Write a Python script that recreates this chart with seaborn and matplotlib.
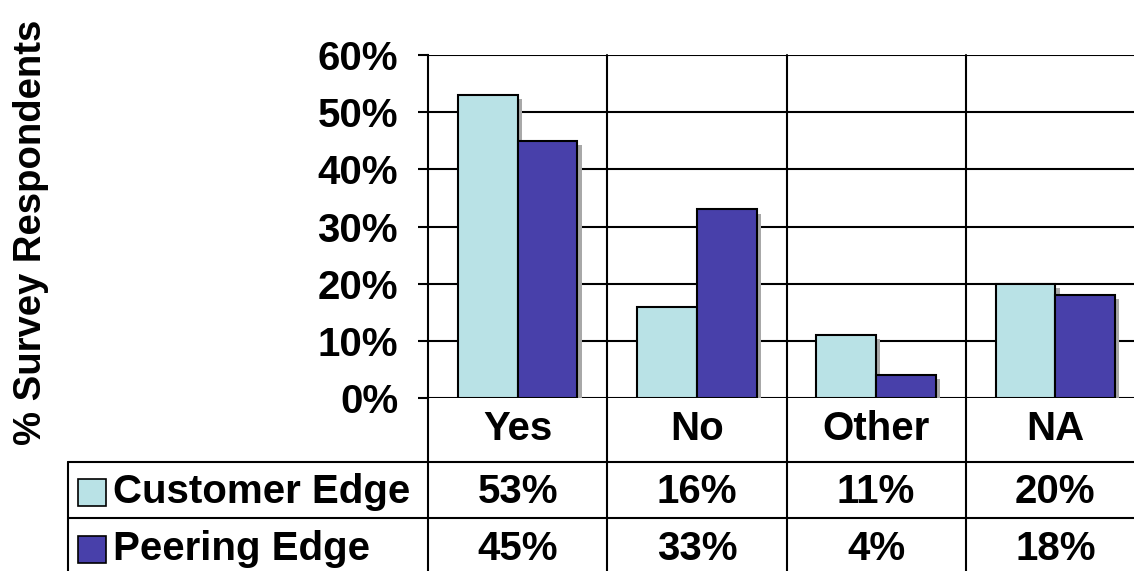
import matplotlib
matplotlib.use("Agg")
import matplotlib.pyplot as plt
import matplotlib.patheffects as pe
import matplotlib.transforms as mtransforms
from matplotlib.patches import Rectangle
import seaborn as sns
import pandas as pd

categories = ["Yes", "No", "Other", "NA"]
customer_edge = [53, 16, 11, 20]
peering_edge = [45, 33, 4, 18]
series_names = ["Customer Edge", "Peering Edge"]
y_ticks = [0, 10, 20, 30, 40, 50, 60]

colors = ["#B9E2E6", "#4840AA"]

df = pd.DataFrame({
    "category": categories * 2,
    "value": customer_edge + peering_edge,
    "series": [series_names[0]] * 4 + [series_names[1]] * 4,
})

sns.set_theme(style="white")
plt.rcParams["font.family"] = ["Liberation Sans", "DejaVu Sans"]
plt.rcParams["font.weight"] = "bold"
plt.rcParams["text.color"] = "black"
plt.rcParams["ytick.color"] = "black"
plt.rcParams["ytick.labelcolor"] = "black"

FS = 29

W, H = 1134, 571
fig = plt.figure(figsize=(W / 100, H / 100), dpi=100)

def fx(px):
    return px / W

def fy(py):
    return 1 - py / H

ax = fig.add_axes([fx(428), fy(398), fx(1145) - fx(428), fy(55) - fy(398)])

sns.barplot(data=df, x="category", y="value", hue="series", order=categories,
            hue_order=series_names, palette=colors, width=2 / 3,
            edgecolor="black", linewidth=1.5, legend=False, ax=ax,
            errorbar=None, saturation=1)

for bar in ax.patches:
    bar.set_path_effects([pe.SimplePatchShadow(offset=(3, -3), shadow_rgbFace="#A8A8A8", alpha=1.0),
                          pe.Normal()])

ax.set_xlim(-0.5, 3.5)
ax.set_ylim(0, 60)
ax.set_yticks(y_ticks)
ax.set_yticklabels([f"{v}%" for v in y_ticks], fontsize=FS, fontweight="bold", color="black")
ax.set_xticks([])
ax.set_xlabel("")
ax.set_ylabel("")
ax.tick_params(axis="y", length=7.5, width=1.5, color="black", pad=14, left=True, direction="out")

for s in ax.spines.values():
    s.set_visible(False)
ax.spines["left"].set_visible(True)
ax.spines["left"].set_color("black")
ax.spines["left"].set_linewidth(1.5)

ax.set_axisbelow(True)
for v in y_ticks:
    ax.axhline(v, color="black", lw=1.5, zorder=0.5)

# vertical grid lines between categories, continuing down through the table
vtrans = mtransforms.blended_transform_factory(ax.transData, fig.transFigure)
for xb in [0.5, 1.5, 2.5]:
    ax.plot([xb, xb], [fy(55), 0], transform=vtrans, color="black", lw=1.5,
            clip_on=False, zorder=0.5)
fig.add_artist(plt.Line2D([fx(428), fx(428)], [fy(398), 0], color="black", lw=1.5))

# table frame
for yline in [462, 518]:
    fig.add_artist(plt.Line2D([fx(68), 1], [fy(yline), fy(yline)], color="black", lw=1.5))
fig.add_artist(plt.Line2D([fx(68), fx(68)], [fy(462), 0], color="black", lw=1.5))

# category row
for i, c in enumerate(categories):
    ax.text(i, fy(429), c, transform=vtrans, ha="center", va="center",
            fontsize=FS, fontweight="bold", color="black")

# data rows
for r, (vals, ycen) in enumerate([(customer_edge, 492), (peering_edge, 549)]):
    for i, v in enumerate(vals):
        ax.text(i, fy(ycen), f"{v}%", transform=vtrans, ha="center", va="center",
                fontsize=FS, fontweight="bold", color="black")
    fig.add_artist(Rectangle((fx(78), fy(ycen + 14)), fx(28), fy(0) - fy(27),
                             transform=fig.transFigure, facecolor=colors[r],
                             edgecolor="black", lw=1.2))
    fig.text(fx(113), fy(ycen), series_names[r], ha="left", va="center",
             fontsize=FS, fontweight="bold", color="black")

fig.text(fx(31), fy(232), "% Survey Respondents", rotation=90, ha="center",
         va="center", fontsize=27.5, fontweight="bold", color="black")

fig.savefig("out.png", dpi=100)
